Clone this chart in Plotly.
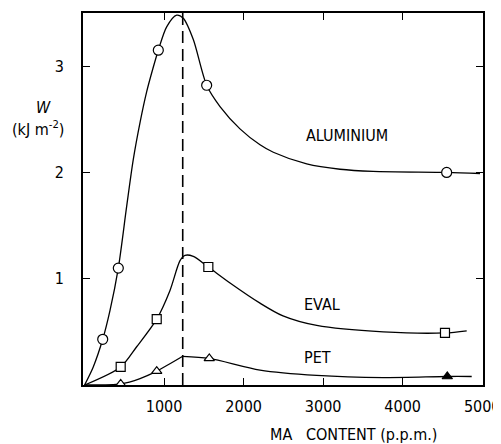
import plotly.graph_objects as go

FONT = "DejaVu Sans Condensed, DejaVu Sans, sans-serif"

# measured points (MA content p.p.m., W kJ m^-2)
al_x = [228, 424, 927, 1535, 4553]
al_y = [0.43, 1.10, 3.15, 2.82, 2.00]
eval_x = [454, 907, 1556, 4532]
eval_y = [0.17, 0.62, 1.11, 0.49]
pet_x = [454, 907, 1568, 4561]
pet_y = [0.01, 0.13, 0.25, 0.08]

# fitted curves
al_cx = [0, 109, 228, 319, 424, 529, 612, 700, 781, 860, 927, 1032, 1158, 1241, 1367, 1535, 1703, 1954, 2206, 2373, 2793, 3212, 3627, 4553, 4972]
al_cy = [0, 0.17, 0.43, 0.70, 1.10, 1.68, 2.12, 2.48, 2.76, 2.98, 3.15, 3.37, 3.48, 3.45, 3.25, 2.82, 2.62, 2.41, 2.26, 2.19, 2.08, 2.03, 2.01, 2.00, 1.99]
eval_cx = [0, 454, 655, 907, 1074, 1200, 1263, 1367, 1556, 1829, 2206, 2495, 2919, 3756, 4532, 4805]
eval_cy = [0, 0.17, 0.36, 0.62, 0.89, 1.17, 1.22, 1.21, 1.11, 0.96, 0.77, 0.65, 0.56, 0.50, 0.49, 0.51]
pet_rise_x = [0, 454, 697, 907, 1234]
pet_rise_y = [0, 0.01, 0.06, 0.13, 0.27]
pet_fall_x = [1234, 1568, 2206, 2919, 3756, 4561, 4868]
pet_fall_y = [0.27, 0.25, 0.14, 0.09, 0.07, 0.08, 0.08]

peak_x = 1234
x_ticks = [1000, 2000, 3000, 4000, 5000]
y_ticks = [1, 2, 3]

fig = go.Figure()
line = dict(color="black", width=1.3, shape="spline", smoothing=0.8)
for cx, cy in [(al_cx, al_cy), (eval_cx, eval_cy), (pet_rise_x, pet_rise_y), (pet_fall_x, pet_fall_y)]:
    fig.add_trace(go.Scatter(x=cx, y=cy, mode="lines", line=line, hoverinfo="skip"))

fig.add_trace(go.Scatter(x=al_x, y=al_y, mode="markers",
                         marker=dict(symbol="circle", size=10, color="white", line=dict(color="black", width=1.2))))
fig.add_trace(go.Scatter(x=eval_x, y=eval_y, mode="markers",
                         marker=dict(symbol="square", size=9, color="white", line=dict(color="black", width=1.2))))
fig.add_trace(go.Scatter(x=pet_x, y=pet_y, mode="markers",
                         marker=dict(symbol="triangle-up", size=9, color=["white", "white", "white", "black"],
                                     line=dict(color="black", width=1.2))))

fig.add_shape(type="line", x0=peak_x, x1=peak_x, y0=0, y1=3.5, xref="x", yref="y",
              line=dict(color="black", width=1.6, dash="12px,6px"))

for txt, ax_, ay_ in [("ALUMINIUM", 3296, 2.35), ("EVAL", 2991, 0.76), ("PET", 2928, 0.26)]:
    fig.add_annotation(x=ax_, y=ay_, text=txt, showarrow=False, xanchor="center", yanchor="middle",
                       font=dict(size=16, color="black", family=FONT))

fig.add_annotation(xref="paper", yref="paper", x=-0.1, y=0.747, text="<i>W</i>", showarrow=False,
                   xanchor="center", yanchor="middle", font=dict(size=16, color="black", family=FONT))
fig.add_annotation(xref="paper", yref="paper", x=-0.113, y=0.69, text="(kJ m<sup>-2</sup>)", showarrow=False,
                   xanchor="center", yanchor="middle", font=dict(size=16, color="black", family=FONT))
fig.add_annotation(xref="paper", yref="paper", x=0.675, y=-0.132, text="MA\u00a0\u00a0\u00a0CONTENT (p.p.m.)",
                   showarrow=False, xanchor="center", yanchor="middle",
                   font=dict(size=16, color="black", family=FONT))

# page body has an 8px default margin; margins compensate so the frame sits at 83..483 x 13..385
fig.update_layout(
    width=501, height=444,
    margin=dict(l=75, r=26, t=5, b=67),
    paper_bgcolor="white", plot_bgcolor="white",
    showlegend=False,
    font=dict(family=FONT, size=16, color="black"),
)
fig.update_xaxes(range=[-20, 5010], tickvals=x_ticks, ticktext=[str(v) for v in x_ticks], automargin=False,
                 showgrid=False, zeroline=False, showline=True, linecolor="black", linewidth=1.8,
                 mirror="allticks", ticks="inside", ticklen=7, tickcolor="black", tickwidth=1.3,
                 ticklabelstandoff=6)
fig.update_yaxes(range=[0, 3.5], tickvals=y_ticks, ticktext=[str(v) for v in y_ticks], automargin=False,
                 showgrid=False, zeroline=False, showline=True, linecolor="black", linewidth=1.8,
                 mirror="allticks", ticks="inside", ticklen=7, tickcolor="black", tickwidth=1.3,
                 ticklabelstandoff=14)

fig.write_html("out.html")
